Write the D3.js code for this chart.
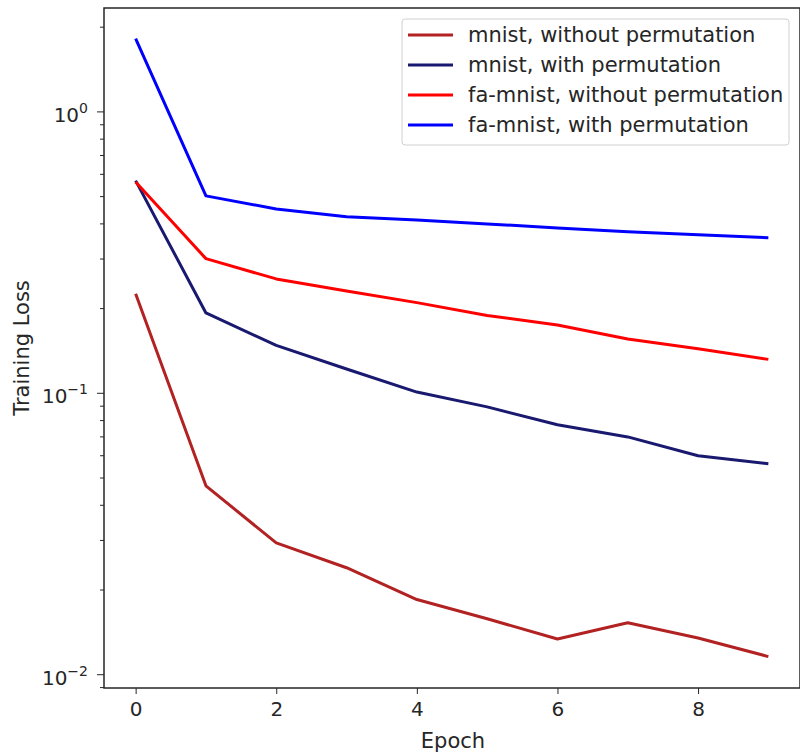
<!DOCTYPE html>
<html>
<head>
<meta charset="utf-8">
<script src="https://cdn.jsdelivr.net/npm/d3@7"></script>
<style>
  body { margin: 0; background: #fff; }
  text { font-family: "DejaVu Sans", sans-serif; fill: #262626; }
</style>
</head>
<body>
<div id="chart"></div>
<script>
// data
const epochs = [0, 1, 2, 3, 4, 5, 6, 7, 8, 9];
const seriesNames = [
  "mnist, without permutation",
  "mnist, with permutation",
  "fa-mnist, without permutation",
  "fa-mnist, with permutation"
];
const seriesColors = ["#b22222", "#191970", "#ff0000", "#0000ff"];
const mnistNoPerm = [0.226, 0.0469, 0.0294, 0.024, 0.0185, 0.0158, 0.0134, 0.0153, 0.0135, 0.0116];
const mnistPerm = [0.57, 0.193, 0.148, 0.122, 0.101, 0.0895, 0.0773, 0.070, 0.060, 0.0562];
const faNoPerm = [0.564, 0.301, 0.255, 0.231, 0.210, 0.189, 0.175, 0.156, 0.144, 0.132];
const faPerm = [1.82, 0.503, 0.452, 0.424, 0.413, 0.400, 0.387, 0.375, 0.366, 0.357];
const allSeries = [mnistNoPerm, mnistPerm, faNoPerm, faPerm];
const xTicks = [0, 2, 4, 6, 8];
const yMajor = [0.01, 0.1, 1];

const width = 800;
const height = 753;
const margin = { top: 8, right: 0, bottom: 65, left: 104 };
const fontSize = "20px";

const svg = d3.select("#chart").append("svg")
  .attr("width", width)
  .attr("height", height);

const x = d3.scaleLinear()
  .domain([-0.45, 9.45])
  .range([margin.left, width - margin.right]);

const y = d3.scaleLog()
  .domain([0.00897, 2.34])
  .range([height - margin.bottom, margin.top]);

// lines
const line = d3.line()
  .x((d, i) => x(epochs[i]))
  .y(d => y(d));

allSeries.forEach((s, i) => {
  svg.append("path")
    .datum(s)
    .attr("fill", "none")
    .attr("stroke", seriesColors[i])
    .attr("stroke-width", 3)
    .attr("stroke-linejoin", "round")
    .attr("d", line);
});

// x axis
const xAxis = svg.append("g")
  .attr("transform", `translate(0,${height - margin.bottom})`)
  .call(d3.axisBottom(x).tickValues(xTicks).tickSize(6).tickPadding(8).tickFormat(d3.format("d")));
xAxis.select(".domain").remove();
xAxis.selectAll("line").attr("stroke", "#262626").attr("stroke-width", 1);
xAxis.selectAll("text").style("font-size", fontSize).style("font-family", "DejaVu Sans");

// y axis: minor ticks
const minor = [];
[0.001, 0.01, 0.1, 1].forEach(b => {
  for (let k = 2; k <= 9; k++) {
    const v = b * k;
    if (v >= y.domain()[0] && v <= y.domain()[1]) minor.push(v);
  }
});
svg.append("g").selectAll("line")
  .data(minor)
  .enter().append("line")
  .attr("x1", margin.left - 4)
  .attr("x2", margin.left)
  .attr("y1", d => y(d))
  .attr("y2", d => y(d))
  .attr("stroke", "#262626")
  .attr("stroke-width", 1);

// y axis: major ticks
const yg = svg.append("g");
yg.selectAll("line")
  .data(yMajor)
  .enter().append("line")
  .attr("x1", margin.left - 7)
  .attr("x2", margin.left)
  .attr("y1", d => y(d))
  .attr("y2", d => y(d))
  .attr("stroke", "#262626")
  .attr("stroke-width", 1);

const labels = yg.selectAll("text.ylab")
  .data(yMajor)
  .enter().append("text")
  .attr("class", "ylab")
  .attr("x", margin.left - 16)
  .attr("y", d => y(d) + 10)
  .attr("text-anchor", "end")
  .style("font-size", "20px");
labels.append("tspan").text("10");
labels.append("tspan")
  .attr("dy", -9)
  .style("font-size", "14px")
  .text(d => d === 1 ? "0" : "\u2212" + Math.round(-Math.log10(d)));

// spines
svg.append("rect")
  .attr("x", margin.left)
  .attr("y", margin.top)
  .attr("width", width - margin.right - margin.left)
  .attr("height", height - margin.bottom - margin.top)
  .attr("fill", "none")
  .attr("stroke", "#262626")
  .attr("stroke-width", 1.5);

// axis labels
svg.append("text")
  .attr("x", 453)
  .attr("y", 748)
  .attr("text-anchor", "middle")
  .style("font-size", "21px")
  .text("Epoch");

svg.append("text")
  .attr("transform", `translate(29,348) rotate(-90)`)
  .attr("text-anchor", "middle")
  .style("font-size", "21px")
  .text("Training Loss");

// legend
const legend = svg.append("g").attr("transform", "translate(402,19)");
legend.append("rect")
  .attr("width", 387)
  .attr("height", 126)
  .attr("rx", 3)
  .attr("fill", "#fff")
  .attr("fill-opacity", 0.8)
  .attr("stroke", "#d0d0d0");

seriesNames.forEach((name, i) => {
  const row = legend.append("g").attr("transform", `translate(0,${16 + i * 30})`);
  row.append("line")
    .attr("x1", 6).attr("x2", 51)
    .attr("stroke", seriesColors[i])
    .attr("stroke-width", 3);
  row.append("text")
    .attr("x", 66)
    .attr("y", 7)
    .style("font-size", "21px")
    .text(name);
});
</script>
</body>
</html>
